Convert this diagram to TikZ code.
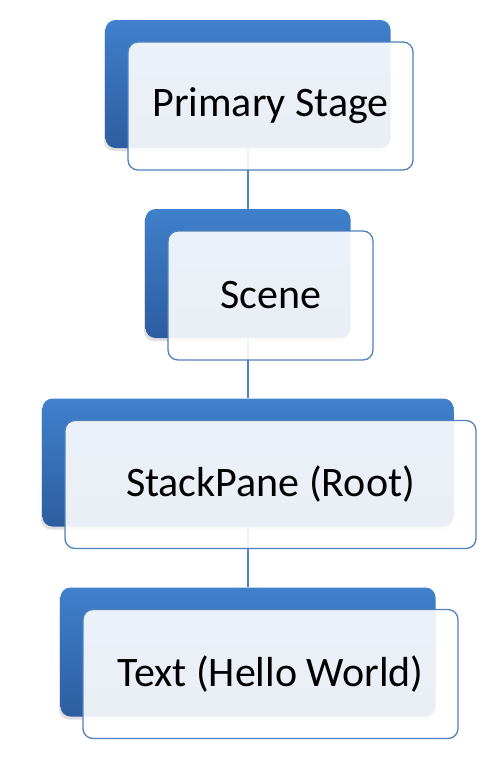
\documentclass[tikz,border=0pt]{standalone}
\usepackage{fontspec}
\setmainfont{Carlito}
\usetikzlibrary{positioning, calc, shadows}
\definecolor{frameblue}{RGB}{79,129,189}
\definecolor{topblue}{RGB}{64,128,204}
\definecolor{lowblue}{RGB}{45,93,160}

\begin{document}
\begin{tikzpicture}[x=1pt, y=1pt,
        backbox/.style={rectangle, rounded corners=10pt, top color=topblue, bottom color=lowblue, draw=none,
            drop shadow={shadow xshift=-1.5pt, shadow yshift=-3pt, opacity=0.25}},
        frontbox/.style={rectangle, rounded corners=10pt, draw=frameblue, line width=1.3pt, fill=white,
            fill opacity=0.9, text opacity=1, font=\fontsize{42}{50}\selectfont},
        link/.style={draw=frameblue, line width=1.3pt}]
        \useasboundingbox (0,0) rectangle (501,-763);

        % back boxes
        \node[backbox, minimum width=285pt, minimum height=128pt] (stageback) at (248,-84) {};
        \node[backbox, minimum width=205pt, minimum height=129pt] (sceneback) at (248,-273.5) {};
        \node[backbox, minimum width=411pt, minimum height=128pt] (paneback) at (248,-462.5) {};
        \node[backbox, minimum width=375pt, minimum height=129pt] (textback) at (248,-652) {};

        \draw[link] (stageback.south) -- (sceneback.north);
        \draw[link] (sceneback.south) -- (paneback.north);
        \draw[link] (paneback.south) -- (textback.north);

        % front boxes
        \node[frontbox, minimum width=285pt, minimum height=128pt] (stage) at ($(stageback)+(22.5,-22)$) {Primary Stage};
        \node[frontbox, minimum width=205pt, minimum height=129pt] (scene) at ($(sceneback)+(22.5,-22)$) {Scene};
        \node[frontbox, minimum width=411pt, minimum height=128pt] (pane) at ($(paneback)+(22.5,-22)$) {StackPane (Root)};
        \node[frontbox, minimum width=375pt, minimum height=129pt] (text) at ($(textback)+(22.5,-22)$) {Text (Hello World)};
    \end{tikzpicture}
\end{document}
